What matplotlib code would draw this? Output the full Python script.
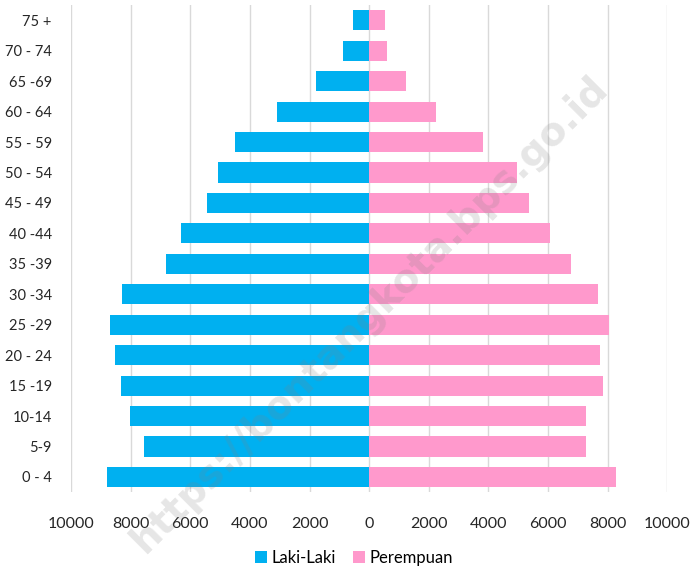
import numpy as np
import matplotlib.pyplot as plt
from matplotlib.ticker import FixedLocator, FuncFormatter

# age groups, bottom to top
age_groups = ["0 - 4", "5-9", "10-14", "15 -19", "20 - 24", "25 -29", "30 -34",
              "35 -39", "40 -44", "45 - 49", "50 - 54", "55 - 59", "60 - 64",
              "65 -69", "70 - 74", "75 +"]
laki_laki = [8810, 7570, 8020, 8320, 8510, 8700, 8300,
             6810, 6310, 5430, 5060, 4510, 3080, 1790, 870, 540]
perempuan = [8290, 7280, 7290, 7840, 7760, 8060, 7670,
             6770, 6080, 5370, 4960, 3830, 2230, 1220, 590, 525]
x_ticks = [-10000, -8000, -6000, -4000, -2000, 0, 2000, 4000, 6000, 8000, 10000]

plt.rcParams['font.family'] = ['Lato', 'DejaVu Sans']

fig = plt.figure(figsize=(6.9, 5.67), dpi=100)
ax = fig.add_axes([0.103, 0.132, 0.864, 0.859])

y = np.arange(len(age_groups))
blue = "#00B0F0"
pink = "#FF99CC"
ax.barh(y, -np.array(laki_laki), height=0.66, color=blue, label="Laki-Laki", zorder=3)
ax.barh(y, perempuan, height=0.66, color=pink, label="Perempuan", zorder=3)

ax.set_xlim(-10000, 10000)
ax.set_ylim(-0.5, len(age_groups) - 0.5)
ax.xaxis.set_major_locator(FixedLocator(x_ticks))
ax.xaxis.set_major_formatter(FuncFormatter(lambda v, p: f"{abs(int(v))}"))
ax.set_yticks(y)
ax.set_yticklabels(age_groups)

ax.grid(axis="x", color="#D9D9D9", linewidth=1, zorder=0)
for s in ax.spines.values():
    s.set_visible(False)
ax.tick_params(axis="both", length=0, colors="#262626")
ax.tick_params(axis="x", labelsize=11.5, pad=18)
ax.tick_params(axis="y", labelsize=10.5, pad=14)

ax.legend(loc="center", bbox_to_anchor=(0.475, -0.135), ncol=2, frameon=False,
          fontsize=12, handlelength=0.7, handleheight=0.7, handletextpad=0.3,
          columnspacing=1.0)

# watermark
fig.text(0.535, 0.445, "https://bontangkota.bps.go.id", rotation=45, fontsize=28,
         fontweight="bold", color="#808080", alpha=0.2, ha="center", va="center",
         family=["DejaVu Sans"], zorder=10)

fig.savefig("out.png", dpi=100)
